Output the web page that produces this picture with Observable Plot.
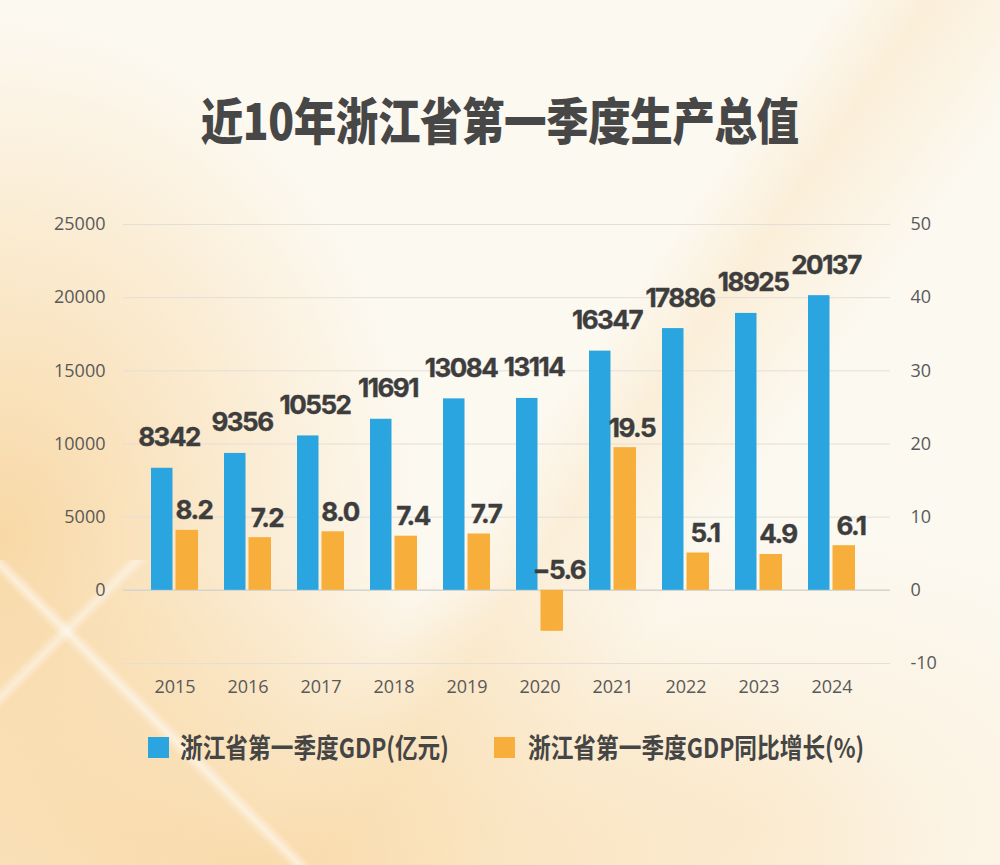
<!DOCTYPE html>
<html>
<head>
<meta charset="utf-8">
<script src="https://cdn.jsdelivr.net/npm/d3@7"></script>
<script src="https://cdn.jsdelivr.net/npm/@observablehq/plot@0.6"></script>
<style>
  html, body { margin: 0; padding: 0; }
  #page {
    position: relative; width: 1000px; height: 865px; overflow: hidden;
    background:
      linear-gradient(125deg, rgba(248,214,160,0) 52%, rgba(248,214,160,0.3) 58%, rgba(248,214,160,0) 68%),
      radial-gradient(ellipse 420px 520px at 0% 62%, rgba(247,205,140,0.75), rgba(247,205,140,0) 100%),
      radial-gradient(ellipse 700px 300px at 25% 100%, rgba(248,210,150,0.7), rgba(248,210,150,0) 100%),
      radial-gradient(ellipse 500px 300px at 75% 95%, rgba(250,225,185,0.4), rgba(250,225,185,0) 100%),
      #fcf9f1;
  }
  #stripes {
    position: absolute; left: 0; top: 560px; width: 320px; height: 305px;
    background:
      linear-gradient(45deg, transparent 46%, rgba(255,255,255,0.55) 48%, transparent 50%),
      linear-gradient(135deg, transparent 20%, rgba(255,255,255,0.45) 22%, transparent 24%);
  }
  #title {
    position: absolute; left: 0; width: 1000px; top: 88px; text-align: center;
    font-family: "Noto Sans CJK SC", sans-serif; font-weight: 900; font-size: 50px;
    color: #474747; line-height: 60px;
  }
  #title span { display: inline-block; transform: scaleX(0.85); letter-spacing: -0.5px; }
  #chart { position: absolute; left: 0; top: 0; }
  .leg { position: absolute; top: 730px; font-family: "Noto Sans CJK SC", sans-serif;
         font-weight: 700; font-size: 27px; color: #454545; line-height: 34px; white-space: nowrap; }
  .leg .sw { position: absolute; top: 7px; width: 21px; height: 21px; }
  .leg .tx { position: absolute; transform: scaleX(0.84); transform-origin: left center; }
</style>
</head>
<body>
<div id="page">
  <div id="stripes"></div>
  <div id="title"><span>近10年浙江省第一季度生产总值</span></div>
  <div id="chart"></div>
  <div class="leg" style="left:148px"><div class="sw" style="left:0;background:#2AA5DF"></div><div class="tx" style="left:32px">浙江省第一季度GDP(亿元)</div></div>
  <div class="leg" style="left:494px"><div class="sw" style="left:0;background:#F8AE3B"></div><div class="tx" style="left:34px">浙江省第一季度GDP同比增长(%)</div></div>
</div>
<script>
const years = ["2015","2016","2017","2018","2019","2020","2021","2022","2023","2024"];
const gdp = [8342, 9356, 10552, 11691, 13084, 13114, 16347, 17886, 18925, 20137];
const growth = [8.2, 7.2, 8.0, 7.4, 7.7, -5.6, 19.5, 5.1, 4.9, 6.1];
const leftTicks = [0, 5000, 10000, 15000, 20000, 25000];
const rightTicks = [-10, 0, 10, 20, 30, 40, 50];
const seriesNames = ["浙江省第一季度GDP(亿元)", "浙江省第一季度GDP同比增长(%)"];

const blue = "#2AA5DF", orange = "#F8AE3B";
const ratio = 25000 / 50; // left units per right-axis unit (axes share 0 and top)

const data = years.map((y, i) => ({year: y, gdp: gdp[i], growth: growth[i]}));
const gridVals = rightTicks.map(t => t * ratio);
const fmtGrowth = v => (v < 0 ? "\u2212" : "") + Math.abs(v).toFixed(1);

const labelStyle = {
  fontFamily: "Inter, 'Liberation Sans', sans-serif",
  fontWeight: "bold", fontSize: 26, fill: "#3d3d3d", stroke: "#3d3d3d", strokeWidth: 0.4,
  lineAnchor: "bottom"
};
const axisStyle = {tickSize: 0, label: null, fill: "#595959", fontSize: 18, fontFamily: "'Open Sans', sans-serif"};

const chart = Plot.plot({
  width: 1000, height: 720,
  marginLeft: 123, marginRight: 110, marginTop: 224, marginBottom: 57,
  style: {background: "transparent", fontFamily: "'Open Sans', sans-serif", fontSize: "18px", color: "#595959"},
  x: {type: "band", domain: years, range: [133.9, 872.7], padding: 0},
  y: {domain: [-5000, 25000]},
  marks: [
    Plot.ruleY(gridVals, {stroke: "#e3dfd6", strokeWidth: 1}),
    Plot.ruleY([0], {stroke: "#d6d4cf", strokeWidth: 1.5}),
    Plot.barY(data, {x: "year", y: "gdp", fill: blue, insetLeft: 13, insetRight: 38.5}),
    Plot.barY(data, {x: "year", y: d => d.growth * ratio, fill: orange, insetLeft: 37.5, insetRight: 13}),
    Plot.text(data, {x: "year", y: "gdp", text: d => String(d.gdp), dx: -6, dy: -22, ...labelStyle}),
    Plot.text(data, {x: "year", y: d => Math.max(0, d.growth) * ratio, text: d => fmtGrowth(d.growth), dx: 19, dy: -11, ...labelStyle}),
    Plot.axisY(leftTicks, {anchor: "left", tickPadding: 18, tickFormat: d => String(d), ...axisStyle}),
    Plot.axisY(gridVals, {anchor: "right", tickPadding: 20, tickFormat: d => String(d / ratio), textAnchor: "start", ...axisStyle}),
    Plot.axisX({anchor: "bottom", tickPadding: 17, ...axisStyle})
  ]
});
chart.querySelectorAll("text").forEach(t => { if (t.closest("g") && t.closest("g").getAttribute("font-size") === "26") t.style.letterSpacing = "-1.5px"; });
document.getElementById("chart").appendChild(chart);
</script>
</body>
</html>
